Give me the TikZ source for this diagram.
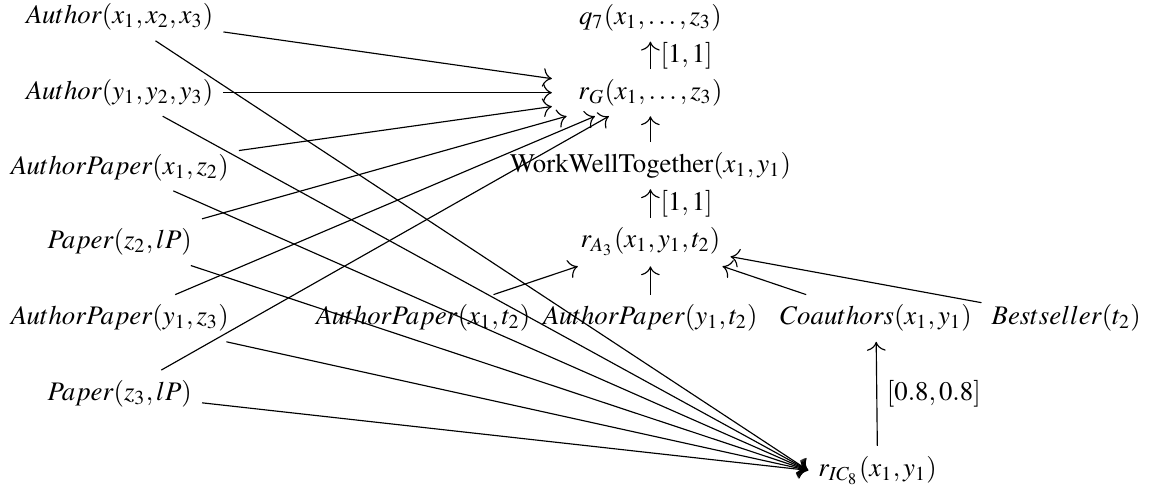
\documentclass[tikz,border=0pt]{standalone}
\usepackage[T1]{fontenc}
\usepackage{mathptmx}
\usetikzlibrary{arrows.meta}
\begin{document}
\begin{tikzpicture}[>={To[scale=1.25]}, every node/.style={font=\fontsize{9.3}{11}\selectfont}]
	\useasboundingbox (0,0) rectangle (14.18,5.93);

	% left column
	\node (ax)   at (1.46,5.72) {$Author(x_1,x_2,x_3)$};
	\node (ay)   at (1.46,4.80) {$Author(y_1,y_2,y_3)$};
	\node (apxz) at (1.46,3.89) {$AuthorPaper(x_1,z_2)$};
	\node (pz)   at (1.46,2.98) {$Paper(z_2,lP)$};
	\node (apyz) at (1.46,2.05) {$AuthorPaper(y_1,z_3)$};
	\node (pzz)  at (1.46,1.13) {$Paper(z_3,lP)$};

	% middle and right
	\node (q)   at (7.93,5.71) {$q_7(x_1,\ldots,z_3)$};
	\node[inner xsep=9pt] (rg) at (7.93,4.80) {$r_G(x_1,\ldots,z_3)$};
	\node (wwt) at (7.93,3.91) {WorkWellTogether$(x_1,y_1)$};
	\node (ra)  at (7.93,2.98) {$r_{A_3}(x_1,y_1,t_2)$};
	\node (apx) at (5.16,2.05) {$AuthorPaper(x_1,t_2)$};
	\node (apy) at (7.93,2.05) {$AuthorPaper(y_1,t_2)$};
	\node (co)  at (10.68,2.05) {$Coauthors(x_1,y_1)$};
	\node (bs)  at (13.0,2.05) {$Bestseller(t_2)$};
	\node (ric) at (10.70,0.195) {$r_{IC_8}(x_1,y_1)$};

	\foreach \n in {ax,ay,apxz,pz,apyz,pzz}{
		\draw[->] (\n) -- (rg);
		\draw[->] (\n) -- (ric.west);
	}

	\draw[->] (rg) -- (q) node[midway,right] {$[1,1]$};
	\draw[->] (wwt) -- (rg);
	\draw[->] (ra) -- (wwt) node[midway,right] {$[1,1]$};
	\draw[->] (apx) -- (ra);
	\draw[->] (apy) -- (ra);
	\draw[->] (co) -- (ra);
	\draw[->] (bs) -- (ra);
	\draw[->] (ric) -- (co) node[midway,right] {$[0.8,0.8]$};

\end{tikzpicture}
\end{document}
